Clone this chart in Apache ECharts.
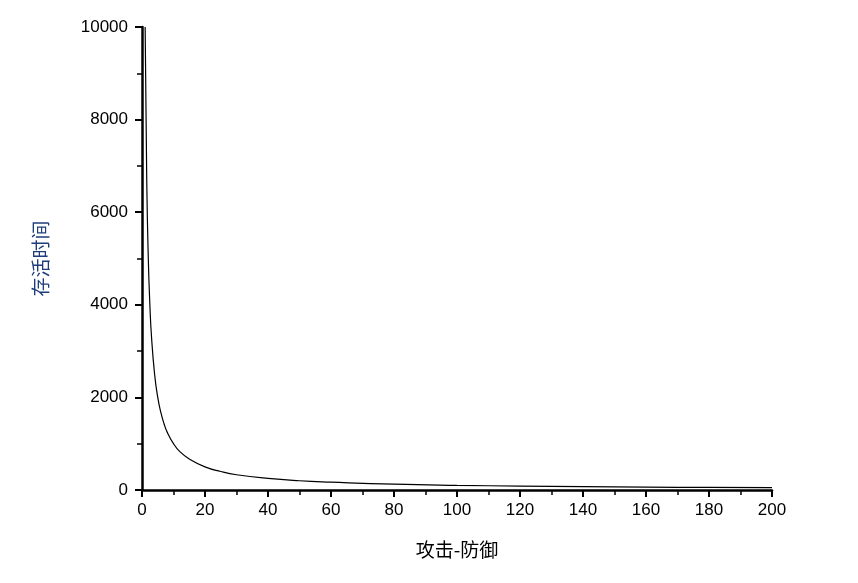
<!DOCTYPE html>
<html>
<head>
<meta charset="utf-8">
<script src="https://cdn.jsdelivr.net/npm/echarts@6/dist/echarts.min.js"></script>
<style>html,body{margin:0;background:#fff}#main{width:858px;height:583px}</style>
</head>
<body>
<div id="main"></div>
<script>
// 攻击-防御 values
const xValues = [1, 1.5, 2, 2.5, 3, 4, 5, 6, 7, 8, 10, 12, 15, 20, 25, 30, 40, 50, 60, 80, 100, 120, 140, 160, 180, 200]
// 存活时间
const yValues = [10000, 6700, 5000, 4000, 3330, 2500, 2000, 1670, 1430, 1250, 1000, 830, 670, 500, 400, 330, 250, 200, 170, 125, 100, 85, 72, 62, 56, 50]

const chart = echarts.init(document.getElementById('main'))
const axisFont = { color: '#000', fontSize: 17, fontFamily: 'Arial, "Liberation Sans", sans-serif' }
let option = {
  animation: false,
  grid: { left: 142, right: 86, top: 27, bottom: 93 },
  xAxis: {
    type: 'value',
    min: 0, max: 200, interval: 20,
    name: '攻击-防御',
    nameLocation: 'middle',
    nameGap: 50,
    nameTextStyle: { color: '#000', fontSize: 19, fontFamily: '"Noto Sans CJK SC"' },
    axisLine: { lineStyle: { color: '#000', width: 2.5 } },
    axisTick: { inside: false, length: 7, lineStyle: { color: '#000', width: 2 } },
    minorTick: { show: true, splitNumber: 2, length: 5, lineStyle: { color: '#000', width: 1.5 } },
    axisLabel: Object.assign({ margin: 12, formatter: v => String(v) }, axisFont),
    splitLine: { show: false }
  },
  yAxis: {
    type: 'value',
    min: 0, max: 10000, interval: 2000,
    name: '存活时间',
    nameLocation: 'middle',
    nameGap: 92,
    nameTextStyle: { color: '#1f3d7a', fontSize: 19, fontFamily: '"Noto Sans CJK SC"' },
    axisLine: { lineStyle: { color: '#000', width: 2.5 } },
    axisTick: { inside: false, length: 7, lineStyle: { color: '#000', width: 2 } },
    minorTick: { show: true, splitNumber: 2, length: 5, lineStyle: { color: '#000', width: 1.5 } },
    axisLabel: Object.assign({ margin: 14, formatter: v => String(v) }, axisFont),
    splitLine: { show: false }
  },
  series: [{
    type: 'line',
    data: xValues.map((x, i) => [x, yValues[i]]),
    smooth: true,
    showSymbol: false,
    lineStyle: { color: '#000', width: 1.2 }
  }]
}
chart.setOption(option)
</script>
</body>
</html>
